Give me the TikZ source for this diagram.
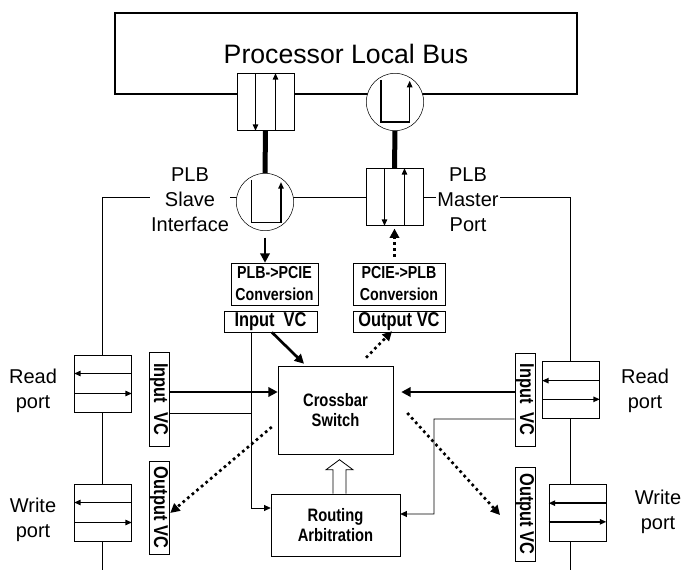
\documentclass[tikz,border=0pt]{standalone}
\usepackage{fontspec}
\setmainfont{Liberation Sans}
\newfontfamily\narrowfont{Liberation Sans}[FakeStretch=0.82]
\usetikzlibrary{positioning,arrows.meta,calc}

\begin{document}
\begin{tikzpicture}[
    x=0.75pt, y=-0.75pt,
    every node/.style={font=\fontsize{15}{18.75}\selectfont},
    bus/.style={rectangle, draw, line width=0.8pt, minimum width=346.5pt, minimum height=60.75pt, font=\fontsize{20}{24}\selectfont},
    fifo/.style={rectangle, draw, fill=white, minimum width=43pt, minimum height=43pt, inner sep=0pt},
    hub/.style={circle, draw, fill=white, minimum size=43pt, inner sep=0pt},
    conv/.style={rectangle, draw, fill=white, inner sep=0pt, minimum height=31.5pt, align=center, font=\narrowfont\bfseries\fontsize{13}{16.5}\selectfont},
    vcbox/.style={rectangle, draw, fill=white, inner sep=0pt, font=\narrowfont\bfseries\fontsize{15}{18}\selectfont},
    block/.style={rectangle, draw, fill=white, inner sep=0pt, align=center, font=\narrowfont\bfseries\fontsize{13.5}{15}\selectfont},
    tag/.style={align=center, fill=white, inner sep=1pt},
    link/.style={line width=3.75pt},
    arrow/.style={-{Triangle[length=7pt, width=7pt]}, line width=2pt},
    dotarrow/.style={-{Triangle[length=7pt, width=7pt]}, line width=2pt, dash pattern=on 2pt off 2.5pt},
    thinarrow/.style={-{Triangle[length=5pt, width=4.5pt]}, line width=0.6pt},
    fifoarrow/.style={-{Triangle[length=5pt, width=4pt]}, line width=1.2pt}
]
\path[use as bounding box] (0,0) rectangle (683,570);

% === Processor Local Bus ===
\node[bus] (plb) at (346,53.5) {Processor Local Bus};

% === Frame line ===
\coordinate (ltop) at (102,197);
\coordinate (lbot) at (102,570);
\coordinate (rtop) at (570,197);
\coordinate (rbot) at (570,570);
\draw[line width=0.6pt] (lbot) -- (ltop) -- (rtop) -- (rbot);

% === PLB interface ===
\node[fifo] (busfifo) at (265.5,102) {};
\node[hub] (bushub) at (395,102) {};
\node[hub] (slavehub) at (265,202) {};
\node[fifo] (masterfifo) at (394.5,197) {};
\node[tag] (slavetag) at (190,200) {PLB\\Slave\\Interface};
\node[tag] (mastertag) at (468,200) {PLB\\Master\\Port};

% === Conversion ===
\node[conv, minimum width=65.25pt] (plbconv) at (274.5,284) {PLB->PCIE\\Conversion};
\node[conv, minimum width=69pt] (pcieconv) at (399,284) {PCIE->PLB\\Conversion};
\node[vcbox, minimum width=69.75pt, minimum height=15.75pt] (invc) at (270.5,321.5) {Input\ \ VC};
\node[vcbox, minimum width=69pt, minimum height=15.75pt] (outvc) at (399,321.5) {Output VC};

% === Switch ===
\node[block, minimum width=86.25pt, minimum height=66pt] (xbar) at (335.5,410) {Crossbar\\Switch};
\node[block, minimum width=96.75pt, minimum height=46.5pt] (arb) at (335.5,525) {Routing\\Arbitration};

% === Ports ===
\node[fifo] (lread) at (103,383.5) {};
\node[fifo] (lwrite) at (103,512.5) {};
\node[fifo] (rread) at (571,390) {};
\node[fifo] (rwrite) at (577.5,512.5) {};
\node[vcbox, minimum width=15pt, minimum height=70.5pt] (linvc) at (159,399) {\rotatebox{-90}{Input\ \ VC}};
\node[vcbox, minimum width=15pt, minimum height=70pt] (loutvc) at (159,507.5) {\rotatebox{-90}{Output VC}};
\node[vcbox, minimum width=15pt, minimum height=70pt] (rinvc) at (525,399.5) {\rotatebox{-90}{Input\ \ VC}};
\node[vcbox, minimum width=15pt, minimum height=70.5pt] (routvc) at (525,514) {\rotatebox{-90}{Output VC}};
\node[align=center] (lreadtag) at (33,391) {Read\\port};
\node[align=center] (lwritetag) at (33,520) {Write\\port};
\node[align=center] (rreadtag) at (645,391) {Read\\port};
\node[align=center] (rwritetag) at (658,512) {Write\\port};

% === FIFO arrows ===
\draw[fifoarrow] ([xshift=-7.5pt]busfifo.north) -- ([xshift=-7.5pt]busfifo.south);
\draw[fifoarrow] ([xshift=7.5pt]busfifo.south) -- ([xshift=7.5pt]busfifo.north);
\draw[fifoarrow] ([xshift=-7.5pt]masterfifo.north) -- ([xshift=-7.5pt]masterfifo.south);
\draw[fifoarrow] ([xshift=7.5pt]masterfifo.south) -- ([xshift=7.5pt]masterfifo.north);
\draw[fifoarrow] ([yshift=7.5pt]lread.east) -- ([yshift=7.5pt]lread.west);
\draw[fifoarrow] ([yshift=-7.5pt]lread.west) -- ([yshift=-7.5pt]lread.east);
\draw[fifoarrow] ([yshift=7.5pt]lwrite.east) -- ([yshift=7.5pt]lwrite.west);
\draw[fifoarrow] ([yshift=-7.5pt]lwrite.west) -- ([yshift=-7.5pt]lwrite.east);
\draw[fifoarrow] ([yshift=7pt]rread.east) -- ([yshift=7pt]rread.west);
\draw[fifoarrow] ([yshift=-7pt]rread.west) -- ([yshift=-7pt]rread.east);
\draw[fifoarrow] ([yshift=7pt]rwrite.east) -- ([yshift=7pt]rwrite.west);
\draw[fifoarrow] ([yshift=-7pt]rwrite.west) -- ([yshift=-7pt]rwrite.east);

% U turns in the hubs
\draw[fifoarrow] ([shift={(-10.5pt,16.5pt)}]bushub.center) |- ([shift={(11pt,-15pt)}]bushub.center) -- ([shift={(11pt,16pt)}]bushub.center);
\draw[fifoarrow] ([shift={(-10pt,16.5pt)}]slavehub.center) |- ([shift={(12pt,-15.5pt)}]slavehub.center) -- ([shift={(12pt,15pt)}]slavehub.center);

% === Connections ===
\draw[link] (busfifo.south) -- (slavehub.north);
\draw[link] (bushub.south) -- (masterfifo.north);
\draw[arrow, shorten <=5pt] (slavehub.south) -- (slavehub.south |- plbconv.north);
\draw[dotarrow, shorten <=4.5pt, shorten >=2pt] (masterfifo.south |- pcieconv.north) -- (masterfifo.south);

\draw[arrow] ([xshift=1pt]invc.south) -- ([shift={(-23.6pt,1.5pt)}]xbar.north);
\draw[dotarrow] ([shift={(22.9pt,6pt)}]xbar.north) -- ([shift={(-5.25pt,0.75pt)}]outvc.south);

\coordinate (lfeed) at ([yshift=5.25pt]linvc.east);
\coordinate (rfeed) at ([yshift=5.6pt]rinvc.west);
\draw[arrow] (lfeed) -- (lfeed -| xbar.west);
\draw[arrow, shorten >=6pt] (rfeed) -- (rfeed -| xbar.east);

\draw[dotarrow] ([shift={(-4.5pt,-12.75pt)}]xbar.west) -- ([shift={(0.75pt,-4.1pt)}]loutvc.east);
\draw[dotarrow] ([shift={(10.5pt,-2.25pt)}]xbar.east) -- ([shift={(-11pt,-0.75pt)}]routvc.west);

% Routing requests
\coordinate (tap) at ([xshift=-14.6pt]invc.south);
\coordinate (lin) at ([yshift=-10.5pt]linvc.east);
\draw[thinarrow] (tap) |- ([yshift=12.75pt]arb.west);
\draw[line width=0.6pt] (lin) -- (lin -| tap);
\coordinate (rin) at ([yshift=-14.6pt]rinvc.west);
\coordinate (rturn) at (434,419);
\draw[thinarrow] (rin) -- (rturn) |- ([yshift=8.25pt]arb.east);

% Grant
\draw[line width=0.6pt, fill=white] ([xshift=-1.9pt]arb.north) -- ++(0pt,18pt) -- ++(-5.2pt,0pt) -- ++(10.1pt,7.5pt) -- ++(10.1pt,-7.5pt) -- ++(-5.2pt,0pt) -- ++(0pt,-18pt);

\end{tikzpicture}
\end{document}
